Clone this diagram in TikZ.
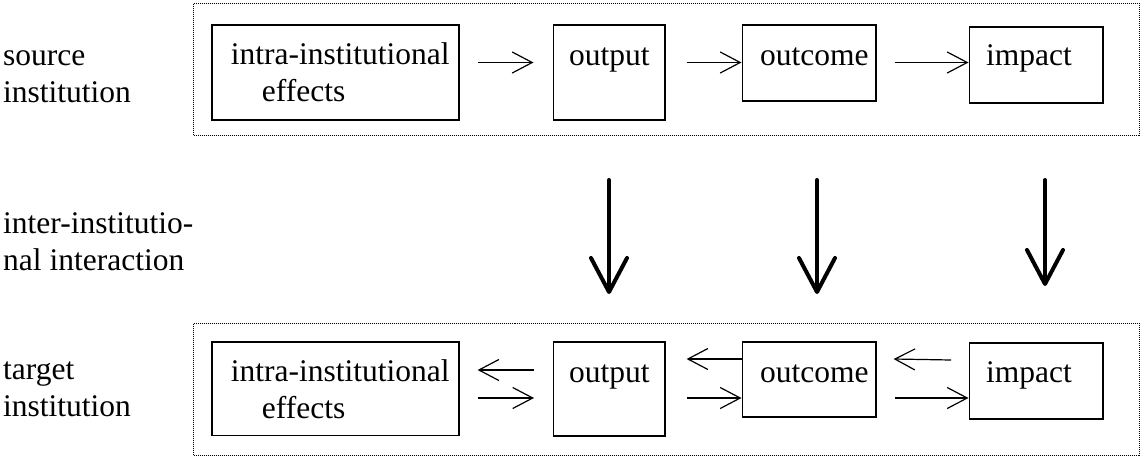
\documentclass[tikz,border=0pt]{standalone}
\usepackage{fontspec}
\setmainfont{Liberation Serif}
\usetikzlibrary{arrows.meta,calc}
\begin{document}
\begin{tikzpicture}[x=1pt,y=-1pt,
  txt/.style={font=\fontsize{31.5pt}{37pt}\selectfont, inner sep=0pt, anchor=base west, align=left},
  box/.style={draw, line width=1.6pt, inner sep=0pt, anchor=north west},
  dotbox/.style={draw, line width=1pt, dash pattern=on 1pt off 1pt, inner sep=0pt, anchor=north west},
  thinarrow/.style={line width=1.2pt, -{Straight Barb[length=20pt,width=21pt,line width=1.2pt]}},
  bigarrow/.style={line width=4pt, line cap=round, -{Straight Barb[length=34pt,width=36pt,line width=4pt,line cap=round,line join=round]}}
]
\useasboundingbox (0,0) rectangle (1141,456);

% dotted frames
\node[dotbox, minimum width=946pt, minimum height=132pt] (src) at (193,3) {};
\node[dotbox, minimum width=946pt, minimum height=132pt] (tgt) at (193,323) {};

% row labels (anchored at the baseline of their last line)
\node[txt] (l1) at (3,102.7) {source\\institution};
\node[txt] (l2) at (3,270.7) {inter-institutio-\\nal interaction};
\node[txt] (l3) at (3,416.7) {target\\institution};

% source row boxes
\node[box, minimum width=247pt, minimum height=95pt] (se) at (211,24) {};
\node[box, minimum width=111.5pt, minimum height=95pt] (so) at (552.5,24) {};
\node[box, minimum width=133.5pt, minimum height=76pt] (sc) at (741.5,24) {};
\node[box, minimum width=133.5pt, minimum height=76pt] (si) at (968.5,26) {};

\node[txt] (se-t) at (230.7,101.7) {intra-institutional\\\hspace*{31pt}effects};
\node[txt] (so-t) at (569,65) {output};
\node[txt] (sc-t) at (760,65) {outcome};
\node[txt] (si-t) at (986,65) {impact};

% target row boxes
\node[box, minimum width=247pt, minimum height=93.5pt] (te) at (211,341) {};
\node[box, minimum width=111.5pt, minimum height=94pt] (to) at (552.5,341) {};
\node[box, minimum width=133.5pt, minimum height=75pt] (tc) at (741.5,341) {};
\node[box, minimum width=133.5pt, minimum height=76pt] (ti) at (968.5,342) {};

\node[txt] (te-t) at (230.7,418.7) {intra-institutional\\\hspace*{31pt}effects};
\node[txt] (to-t) at (569,382) {output};
\node[txt] (tc-t) at (760,382) {outcome};
\node[txt] (ti-t) at (986,382) {impact};

% source row arrows
\draw[thinarrow] ($(se.north east)+(18.5,38.5)$) -- ($(so.north west)+(-19,38.5)$);
\draw[thinarrow] ($(so.north east)+(21,38.5)$) -- ($(sc.north west)+(0,38.5)$);
\draw[thinarrow] ($(sc.north east)+(18,38.5)$) -- ($(si.north west)+(0,36.5)$);

% target row arrows
\draw[thinarrow] ($(so.north west |- te.north)+(-18.5,29)$) -- ($(te.north east)+(18,29)$);
\draw[thinarrow] ($(te.north east)+(18,57)$) -- ($(to.north west)+(-18.5,57)$);
\draw[thinarrow] ($(tc.north west)+(0,18)$) -- ($(to.north east)+(21,18)$);
\draw[thinarrow] ($(to.north east)+(21,57)$) -- ($(tc.north west)+(0,57)$);
\draw[thinarrow] ($(ti.north west)+(-17.5,18)$) -- ($(tc.north east)+(17,18)$);
\draw[thinarrow] ($(tc.north east)+(18,57)$) -- ($(ti.north west)+(0,56)$);

% inter-institutional arrows
\coordinate (a1s) at (609,180); \coordinate (a1e) at (609,294);
\coordinate (a2s) at (817,180); \coordinate (a2e) at (817,294);
\coordinate (a3s) at (1045,180); \coordinate (a3e) at (1045,286);
\draw[bigarrow] (a1s) -- (a1e);
\draw[bigarrow] (a2s) -- (a2e);
\draw[bigarrow] (a3s) -- (a3e);
\end{tikzpicture}
\end{document}
